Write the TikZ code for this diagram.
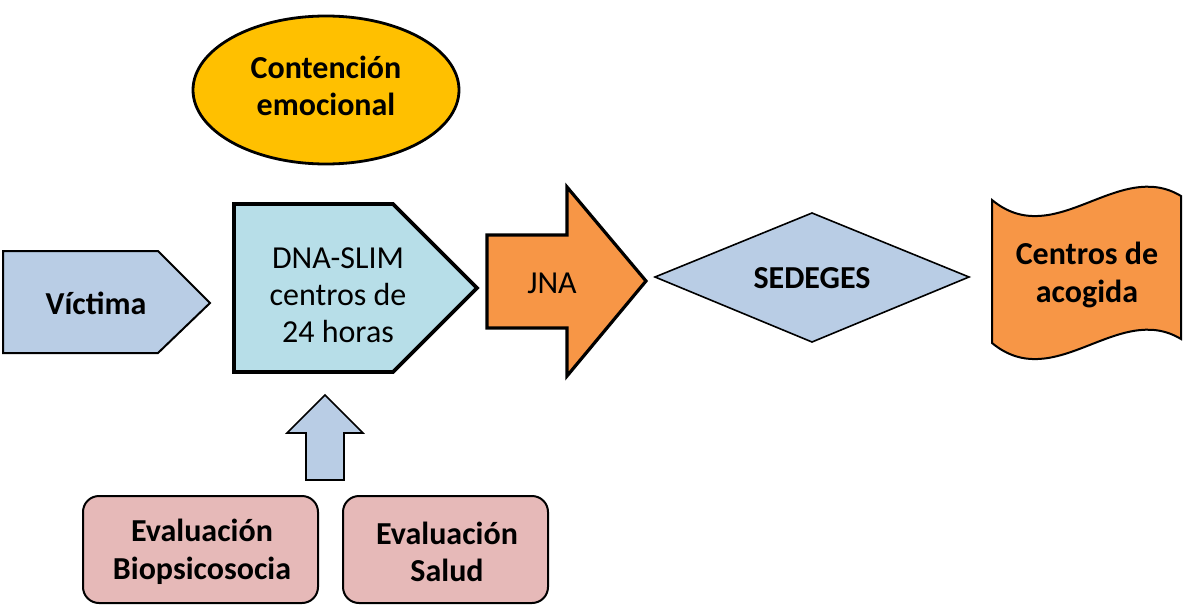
\documentclass[tikz,border=0pt]{standalone}
\usepackage{fontspec}
\setmainfont{Carlito}
\definecolor{steel}{HTML}{B9CDE5}
\definecolor{aqua}{HTML}{B7DEE8}
\definecolor{orng}{HTML}{F79646}
\definecolor{gold}{HTML}{FFC000}
\definecolor{rosy}{HTML}{E6B9B8}
\tikzset{
  lbl/.style={align=center,font=\fontsize{32}{37.5}\selectfont\bfseries,inner sep=0pt},
  lblr/.style={align=center,font=\fontsize{32}{37}\selectfont,inner sep=0pt},
  thinshape/.style={draw=black,line width=1.6pt,line join=miter},
  thickshape/.style={draw=black,line width=3.2pt,line join=miter},
}
\begin{document}
\begin{tikzpicture}[x=1pt,y=-1pt]
\useasboundingbox (0,0) rectangle (1183,605);
% Contencion emocional
\draw[fill=gold,line width=2.8pt] (326,90) ellipse [x radius=133, y radius=74];
\node[lbl] (cont) at (326,86) {Contención\\emocional};
% Victima
\draw[thinshape,fill=steel,line width=2pt] (3,251) -- (158,251) -- (210,303) -- (158,353) -- (3,353) -- cycle;
\node[lbl] (vic) at (96,303) {Víctima};
% DNA-SLIM
\draw[thickshape,fill=aqua,line width=3.8pt] (234,204) -- (393,204) -- (477,288) -- (393,372) -- (234,372) -- cycle;
\node[lblr] (dna) at (338,295) {DNA-SLIM\\centros de\\24 horas};
% JNA arrow
\draw[thickshape,fill=orng] (487,235) -- (567,235) -- (567,187) -- (646,281) -- (567,376) -- (567,328) -- (487,328) -- cycle;
\node[lblr] (jna) at (552,283) {JNA};
% SEDEGES diamond
\draw[thinshape,fill=steel] (655,277) -- (812,213) -- (969,277) -- (812,342) -- cycle;
\node[lbl] (sed) at (812,278) {SEDEGES};
% Centros de acogida wave
\draw[thinshape,fill=orng,line width=2pt] (992,200) .. controls (1055,252) and (1118,158) .. (1181,196)
  -- (1181,339) .. controls (1118,301) and (1055,395) .. (992,343) -- cycle;
\node[lbl] (cen) at (1087,275) {Centros de\\acogida};
% Up arrow
\draw[thinshape,fill=steel] (306,480) -- (306,433) -- (287,433) -- (325,395) -- (363,433) -- (344,433) -- (344,480) -- cycle;
% Evaluation boxes
\node[draw=black,line width=2pt,fill=rosy,rounded corners=16pt,minimum width=235pt,minimum height=107pt,inner sep=0pt] (ev1box) at (200.5,549.5) {};
\node[lbl] (ev1) at (202,552) {Evaluación\\Biopsicosocia};
\node[draw=black,line width=2pt,fill=rosy,rounded corners=16pt,minimum width=205pt,minimum height=107pt,inner sep=0pt] (ev2box) at (445.5,549.5) {};
\node[lbl] (ev2) at (447,552) {Evaluación\\Salud};
\end{tikzpicture}
\end{document}
